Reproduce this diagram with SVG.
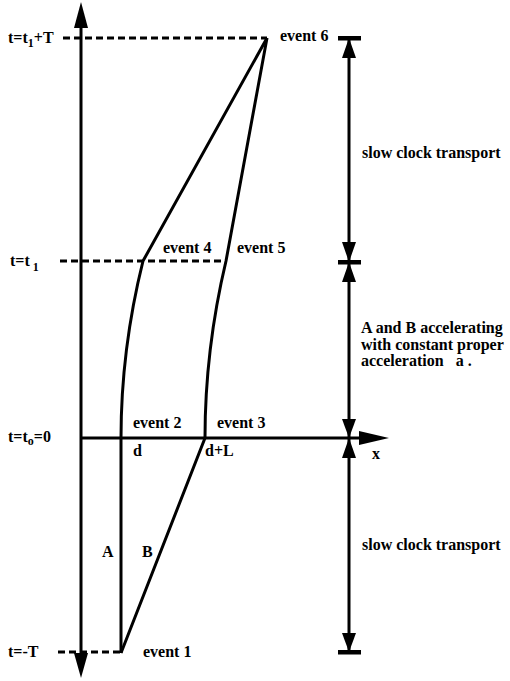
<svg xmlns="http://www.w3.org/2000/svg" width="510" height="681" viewBox="0 0 510 681">
<style>
text{font-family:"Liberation Serif","Times New Roman",serif;font-weight:bold;font-size:16px;fill:#000}
.ln{stroke:#000;stroke-width:3;fill:none}
.dash{stroke:#000;stroke-width:3;fill:none;stroke-dasharray:7 4}
.ah{fill:#000}
.sub{font-size:12px}
</style>
<rect width="510" height="681" fill="#fff"/>
<g id="connectors">
  <!-- time axis -->
  <line class="ln" x1="81" y1="26" x2="81" y2="655"/>
  <polygon class="ah" points="81,2 74,28 88,28"/>
  <polygon class="ah" points="81,678 74,653 88,653"/>
  <!-- x axis -->
  <line class="ln" x1="81" y1="438" x2="361" y2="438"/>
  <polygon class="ah" points="389,438 359,431 359,445"/>
  <!-- dashed time lines -->
  <line class="dash" x1="63" y1="38" x2="267" y2="38"/>
  <line class="dash" x1="60" y1="261" x2="226" y2="261"/>
  <line class="dash" x1="58" y1="652" x2="121" y2="652"/>
  <!-- worldline A -->
  <path class="ln" d="M121,653 L121,438 Q121,349.5 143,261 L267,38" stroke-linejoin="round"/>
  <!-- worldline B -->
  <path class="ln" d="M121,653 L205,438 Q205,349.5 226,261 L267,38" stroke-linejoin="round"/>
  <!-- right-hand interval arrows -->
  <line class="ln" x1="349" y1="40" x2="349" y2="650"/>
  <rect x="338" y="36" width="23" height="4.5"/>
  <rect x="338" y="260" width="23" height="4.5"/>
  <rect x="338" y="650" width="23" height="4.5"/>
  <polygon class="ah" points="349,38 342,58 356,58"/>
  <polygon class="ah" points="349,262 342,242 356,242"/>
  <polygon class="ah" points="349,262 342,282 356,282"/>
  <polygon class="ah" points="349,438 342,419 356,419"/>
  <polygon class="ah" points="349,438 342,458 356,458"/>
  <polygon class="ah" points="349,652 342,633 356,633"/>
</g>
<g id="axis-labels">
  <text x="8" y="43">t=t<tspan class="sub" dy="4">1</tspan><tspan dy="-4">+T</tspan></text>
  <text x="10" y="266">t=t<tspan class="sub" dy="5"> 1</tspan></text>
  <text x="8" y="442">t=t<tspan class="sub" dy="3">o</tspan><tspan dy="-3">=0</tspan></text>
  <text x="8" y="657">t=-T</text>
  <text x="372" y="459">x</text>
</g>
<g id="event1"><text x="143" y="657">event 1</text></g>
<g id="event2"><text x="133" y="428">event 2</text></g>
<g id="event3"><text x="217" y="428">event 3</text></g>
<g id="event4"><text x="163" y="253">event 4</text></g>
<g id="event5"><text x="237" y="253">event 5</text></g>
<g id="event6"><text x="280" y="41">event 6</text></g>
<g id="position-labels">
  <text x="133" y="456">d</text>
  <text x="205" y="456">d+L</text>
  <text x="102" y="557">A</text>
  <text x="142" y="557">B</text>
</g>
<g id="interval-labels">
  <text x="362" y="158">slow clock transport</text>
  <text x="361" y="333">A and B accelerating</text>
  <text x="361" y="350">with constant proper</text>
  <text x="361" y="366">acceleration <tspan dx="8">a .</tspan></text>
  <text x="362" y="550">slow clock transport</text>
</g>
</svg>
